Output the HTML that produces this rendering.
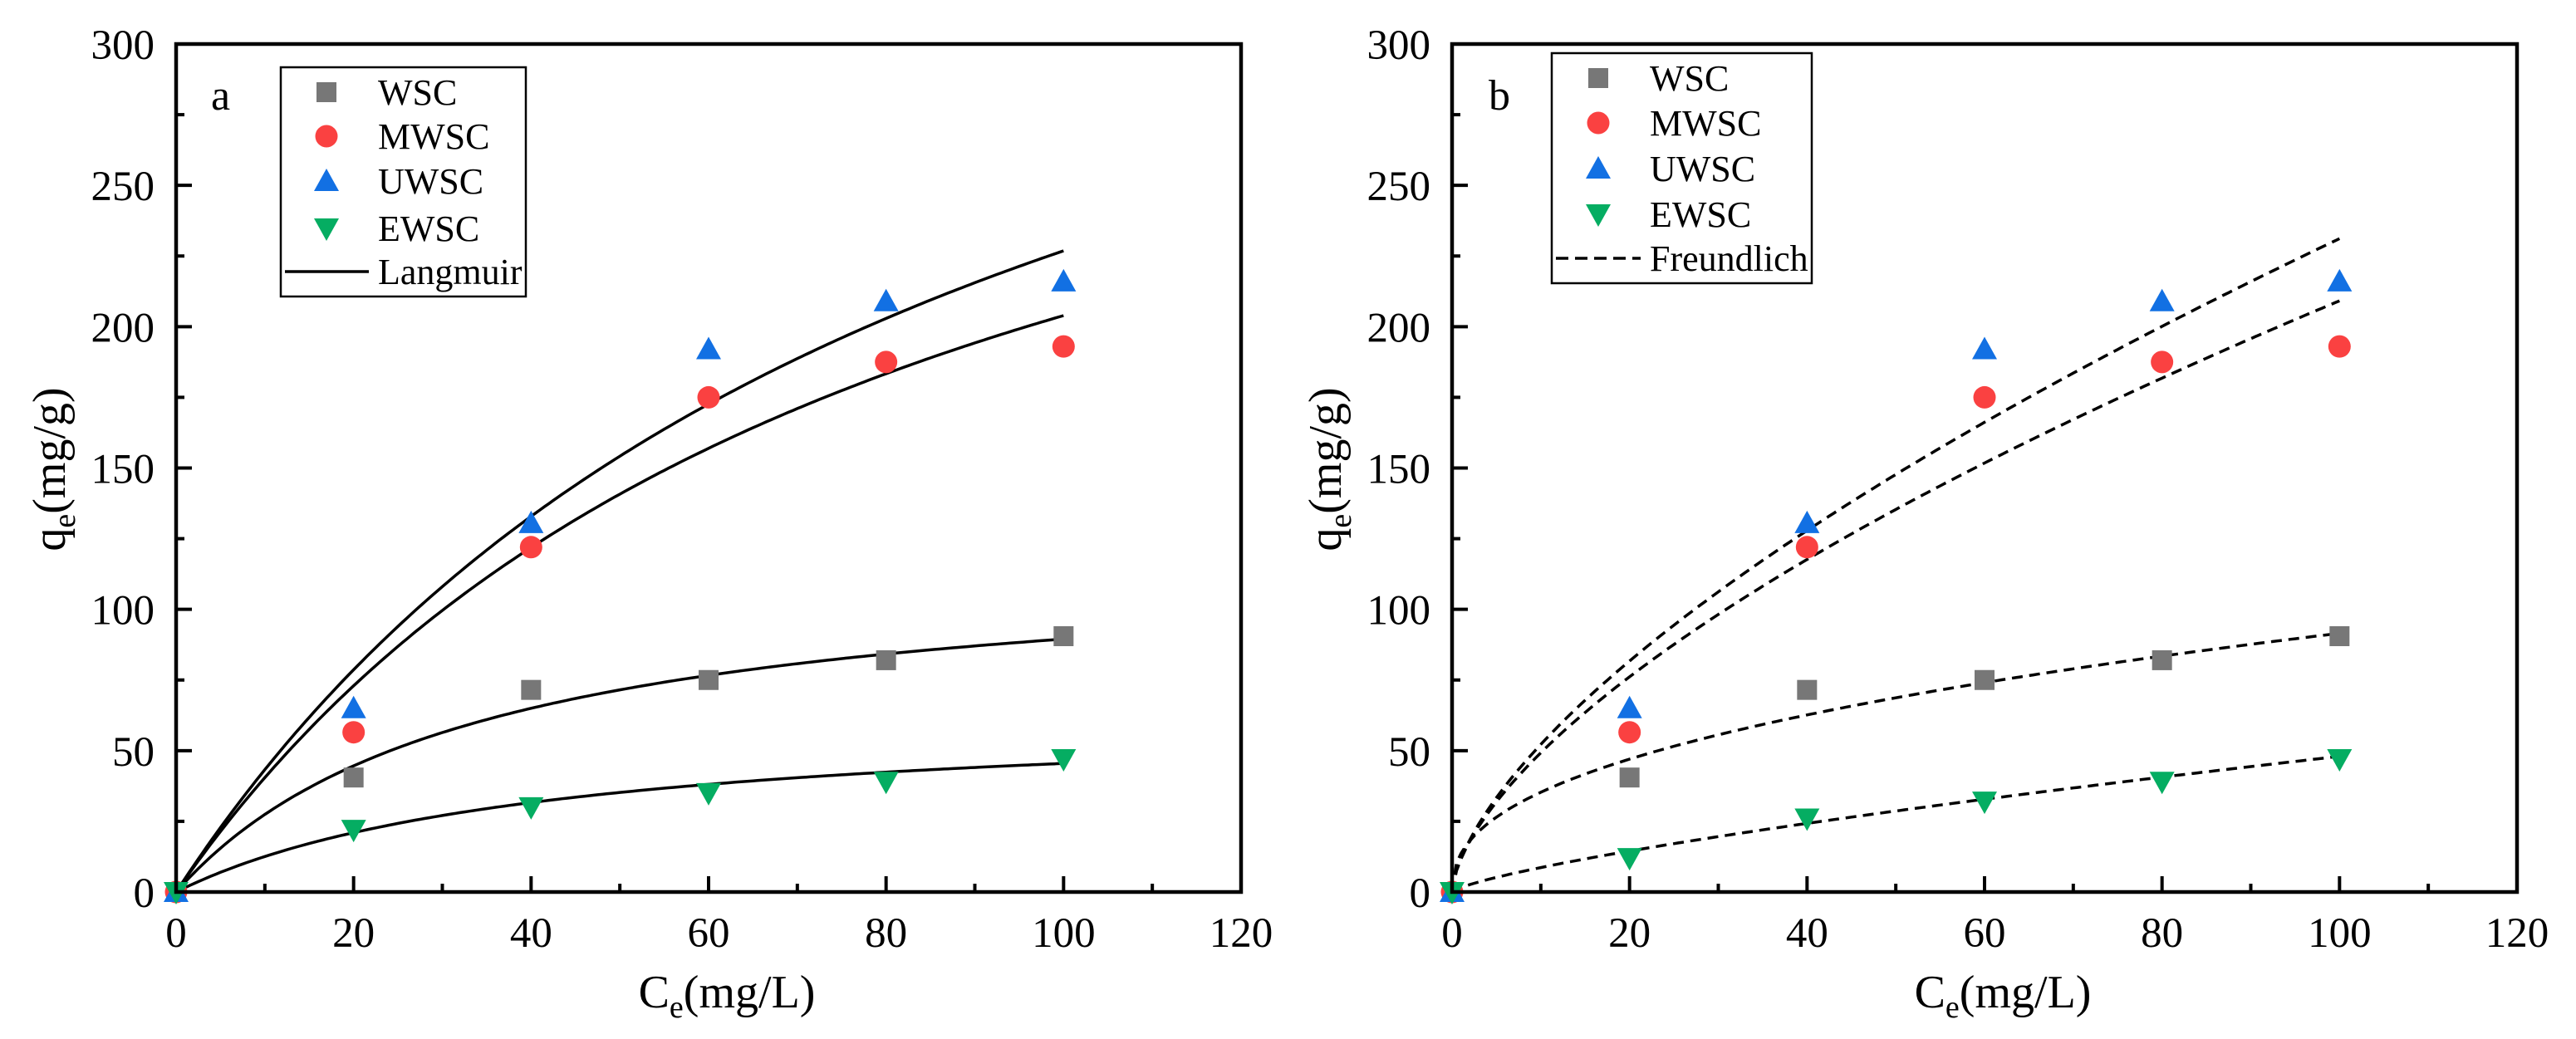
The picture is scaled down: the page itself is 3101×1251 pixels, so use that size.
<!DOCTYPE html>
<html><head><meta charset="utf-8"><style>
html,body{margin:0;padding:0;background:#fff;}
svg{display:block;font-family:"Liberation Serif",serif;}
</style></head><body>
<svg id="chart" width="3101" height="1251" viewBox="0 0 3101 1251" xmlns="http://www.w3.org/2000/svg"></svg>
<script>
const ceValues = [0, 20, 40, 60, 80, 100];
const wscQ = [0, 40.5, 71.5, 75, 82, 90.5];
const mwscQ = [0, 56.5, 122, 175, 187.5, 193];
const uwscQ = [0, 65, 130.5, 192, 209, 216];
const ewscQa = [0, 22, 30, 35, 39, 47];
const ewscQb = [0, 12, 26, 32, 39, 47];
const langmuirQm = [119.5, 370, 429, 64.2];
const langmuirK = [0.0298, 0.01228, 0.01122, 0.0243];
const freundKf = [13.6, 11.6, 11.8, 1.56];
const freundInvN = [0.414, 0.628, 0.646, 0.744];
const xTicks = [0, 20, 40, 60, 80, 100, 120];
const yTicks = [0, 50, 100, 150, 200, 250, 300];
const seriesNames = ["WSC", "MWSC", "UWSC", "EWSC"];
const seriesColors = ["#777777", "#fa4141", "#1270e3", "#05ad62"];

const NS = "http://www.w3.org/2000/svg";
const svg = document.getElementById("chart");
function mk(tag, attrs, parent) {
  const e = document.createElementNS(NS, tag);
  for (const k in attrs) e.setAttribute(k, attrs[k]);
  (parent || svg).appendChild(e);
  return e;
}
function marker(g, kind, cx, cy, color) {
  let m;
  if (kind === 0) m = mk("rect", {x: cx - 12, y: cy - 12, width: 24, height: 24, fill: color}, g);
  else if (kind === 1) m = mk("circle", {cx: cx, cy: cy, r: 13.5, fill: color}, g);
  else if (kind === 2) m = mk("polygon", {points: `${cx},${cy - 15} ${cx + 15},${cy + 12} ${cx - 15},${cy + 12}`, fill: color}, g);
  else m = mk("polygon", {points: `${cx},${cy + 15} ${cx + 15},${cy - 12} ${cx - 15},${cy - 12}`, fill: color}, g);
  return m;
}

function panel(opts) {
  const L = opts.left, R = opts.left + 1282, T = 53, B = 1074;
  const sx = v => L + (v - 0) / 120 * (R - L);
  const sy = v => B - (v - 0) / 300 * (B - T);
  const g = mk("g", {});
  
  

  const tg = mk("g", {stroke: "#000", "stroke-width": 4}, g);
  
  
  for (let v = 0; v <= 120; v += 10) {
    const len = v % 20 === 0 ? 19 : 10;
    mk("line", {x1: sx(v), x2: sx(v), y1: B, y2: B - len}, tg);
  }
  for (let v = 0; v <= 300; v += 25) {
    const len = v % 50 === 0 ? 19 : 10;
    mk("line", {x1: L, x2: L + len, y1: sy(v), y2: sy(v)}, tg);
  }
  xTicks.forEach(v => {
    const t = mk("text", {x: sx(v), y: 1140, "font-size": 51, "text-anchor": "middle"}, g);
    
    
    t.textContent = v;
  });
  yTicks.forEach(v => {
    const t = mk("text", {x: L - 26, y: sy(v) + 18, "font-size": 51, "text-anchor": "end"}, g);
    
    
    t.textContent = v;
  });
  const xt = mk("text", {x: L + 663, y: 1213, "font-size": 56, "text-anchor": "middle"}, g);
  
  
  xt.innerHTML = 'C<tspan font-size="38" dy="12">e</tspan><tspan dy="-12">(mg/L)</tspan>';
  const yt = mk("text", {x: 0, y: 0, "font-size": 56, "text-anchor": "middle", transform: `translate(${L - 134},565) rotate(-90)`}, g);
  
  
  yt.innerHTML = 'q<tspan font-size="38" dy="12">e</tspan><tspan dy="-12">(mg/g)</tspan>';

  const cg = mk("g", {fill: "none", stroke: "#000", "stroke-width": 3.5}, g);
  
  
  for (let s = 0; s < 4; s++) {
    let d = "";
    for (let i = 0; i <= 200; i++) {
      const c = i / 2;
      const q = opts.fit(s, c);
      d += (i ? "L" : "M") + sx(c).toFixed(1) + "," + sy(q).toFixed(1);
    }
    const p = mk("path", {d: d}, cg);
    if (opts.dashed) p.setAttribute("stroke-dasharray", "13 8");
    
    
  }
  const data = [wscQ, mwscQ, uwscQ, opts.ewsc];
  for (let s = 0; s < 4; s++) {
    const pg = mk("g", {}, g);
    
    
    ceValues.forEach((c, i) => {
      const m = marker(pg, s, sx(c), sy(data[s][i]), seriesColors[s]);
      
      
    });
  }
  const fr = mk("rect", {x: L, y: T, width: R - L, height: B - T, fill: "none", stroke: "#000", "stroke-width": 4.5}, g);
  
  
  const pl = mk("text", {x: opts.labelX, y: 132, "font-size": 52}, g);
  
  
  pl.textContent = opts.label;

  const lg = mk("g", {}, g);
  
  
  const lb = opts.legend;
  const box = mk("rect", {x: lb.x, y: lb.y, width: lb.w, height: lb.h, fill: "#fff", stroke: "#000", "stroke-width": 2.5}, lg);
  
  
  for (let s = 0; s < 5; s++) {
    const cy = lb.rows[s];
    if (s < 4) {
      const m = marker(lg, s, lb.mx, cy, seriesColors[s]);
      
      
    } else {
      const ln = mk("line", {x1: lb.x + 5, x2: lb.tx - 11, y1: cy, y2: cy, stroke: "#000", "stroke-width": 3.5}, lg);
      if (opts.dashed) ln.setAttribute("stroke-dasharray", "15 8");
      
      
    }
    const t = mk("text", {x: lb.tx, y: cy + 15, "font-size": 44}, lg);
    
    
    t.textContent = s < 4 ? seriesNames[s] : opts.fitName;
  }
}

panel({
  name: "panel-a-langmuir", left: 212, label: "a", labelX: 254, ewsc: ewscQa, dashed: false, fitName: "Langmuir",
  fit: (s, c) => langmuirQm[s] * langmuirK[s] * c / (1 + langmuirK[s] * c),
  legend: {x: 338, y: 81, w: 295, h: 276, mx: 393, tx: 455, rows: [111, 164, 218, 275, 327]}
});
panel({
  name: "panel-b-freundlich", left: 1748, label: "b", labelX: 1792, ewsc: ewscQb, dashed: true, fitName: "Freundlich",
  fit: (s, c) => freundKf[s] * Math.pow(c, freundInvN[s]),
  legend: {x: 1868, y: 64, w: 313, h: 277, mx: 1924, tx: 1986, rows: [94, 148, 203, 258, 311]}
});
</script>
</body></html>
